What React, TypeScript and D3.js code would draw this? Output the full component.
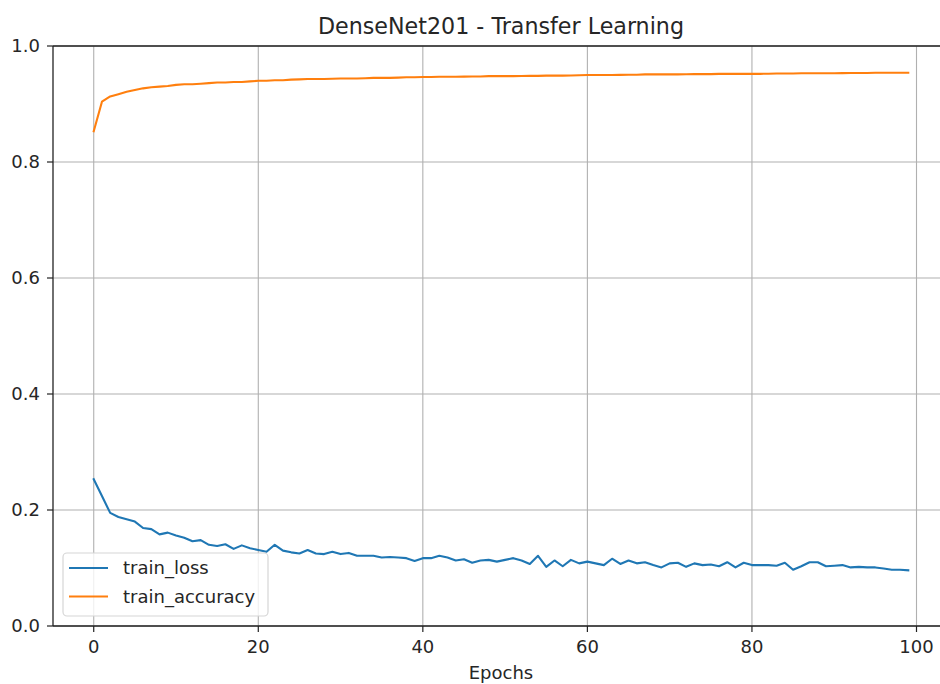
import React from "react";
import * as d3 from "d3";

const epochs: number[] = Array.from({ length: 100 }, (_, i) => i);

const trainLoss: number[] = [
  0.253, 0.224, 0.195, 0.188, 0.184, 0.180, 0.169, 0.167, 0.158, 0.161,
  0.156, 0.152, 0.146, 0.148, 0.140, 0.138, 0.141, 0.133, 0.139, 0.134,
  0.131, 0.128, 0.140, 0.130, 0.127, 0.125, 0.131, 0.125, 0.124, 0.128,
  0.124, 0.126, 0.121, 0.121, 0.121, 0.118, 0.119, 0.118, 0.117, 0.112,
  0.117, 0.117, 0.121, 0.118, 0.113, 0.115, 0.109, 0.113, 0.114, 0.111,
  0.114, 0.117, 0.113, 0.107, 0.121, 0.102, 0.113, 0.103, 0.114, 0.108,
  0.111, 0.108, 0.105, 0.116, 0.107, 0.113, 0.108, 0.110, 0.105, 0.101,
  0.108, 0.109, 0.102, 0.108, 0.105, 0.106, 0.103, 0.110, 0.101, 0.109,
  0.105, 0.105, 0.105, 0.104, 0.109, 0.097, 0.103, 0.110, 0.110, 0.103,
  0.104, 0.105, 0.101, 0.102, 0.101, 0.101, 0.099, 0.097, 0.097, 0.096,
];

const trainAccuracy: number[] = [
  0.853, 0.904, 0.913, 0.917, 0.921, 0.924, 0.927, 0.929, 0.930, 0.931,
  0.933, 0.934, 0.934, 0.935, 0.936, 0.937, 0.937, 0.938, 0.938, 0.939,
  0.940, 0.940, 0.941, 0.941, 0.942, 0.9425, 0.943, 0.943, 0.943, 0.9435,
  0.944, 0.944, 0.944, 0.9445, 0.945, 0.945, 0.945, 0.9455, 0.946, 0.946,
  0.9465, 0.9465, 0.947, 0.947, 0.947, 0.9472, 0.9475, 0.9475, 0.948, 0.948,
  0.948, 0.948, 0.9482, 0.9485, 0.9485, 0.949, 0.949, 0.949, 0.9492, 0.9495,
  0.950, 0.950, 0.950, 0.950, 0.9502, 0.9505, 0.9505, 0.951, 0.951, 0.951,
  0.951, 0.951, 0.9512, 0.9515, 0.9515, 0.9515, 0.952, 0.952, 0.952, 0.952,
  0.952, 0.952, 0.9522, 0.9525, 0.9525, 0.9525, 0.953, 0.953, 0.953, 0.953,
  0.953, 0.9532, 0.9535, 0.9535, 0.9535, 0.954, 0.954, 0.954, 0.954, 0.954,
];

const xTicks: number[] = [0, 20, 40, 60, 80, 100];
const yTicks: number[] = [0.0, 0.2, 0.4, 0.6, 0.8, 1.0];
const seriesNames: string[] = ["train_loss", "train_accuracy"];
const seriesColors: string[] = ["#1f77b4", "#ff7f0e"];
const titleText = "DenseNet201 - Transfer Learning";
const xLabel = "Epochs";

const W = 940;
const H = 684;
const left = 53;
const right = 949;
const top = 46;
const bottom = 626;
const FONT = "DejaVu Sans, sans-serif";
const TXT = "#262626";

export default function App() {
  const x = d3.scaleLinear().domain([-4.95, 103.95]).range([left, right]);
  const y = d3.scaleLinear().domain([0, 1]).range([bottom, top]);
  const line = d3
    .line<number>()
    .x((_, i) => x(epochs[i]))
    .y((d) => y(d));
  const series = [trainLoss, trainAccuracy];

  return (
    <svg
      width={W}
      height={H}
      style={{ position: "fixed", left: 0, top: 0, background: "#fff" }}
      fontFamily={FONT}
    >
      <rect x={0} y={0} width={W} height={H} fill="#fff" />
      <defs>
        <clipPath id="plotclip">
          <rect x={left} y={top} width={right - left} height={bottom - top} />
        </clipPath>
      </defs>
      {/* grid */}
      {xTicks.map((t) => (
        <line
          key={"gx" + t}
          x1={x(t)}
          x2={x(t)}
          y1={top}
          y2={bottom}
          stroke="#b0b0b0"
          strokeWidth={1.1}
        />
      ))}
      {yTicks.map((t) => (
        <line
          key={"gy" + t}
          x1={left}
          x2={right}
          y1={y(t)}
          y2={y(t)}
          stroke="#b0b0b0"
          strokeWidth={1.1}
        />
      ))}
      {/* lines */}
      <g clipPath="url(#plotclip)">
        {series.map((s, i) => (
          <path
            key={seriesNames[i]}
            d={line(s) || ""}
            fill="none"
            stroke={seriesColors[i]}
            strokeWidth={2.1}
            strokeLinejoin="round"
            strokeLinecap="square"
          />
        ))}
      </g>
      {/* spines */}
      <line x1={left} x2={left} y1={top} y2={bottom} stroke="#222" strokeWidth={1.3} />
      <line x1={left} x2={right} y1={bottom} y2={bottom} stroke="#222" strokeWidth={1.3} />
      <line x1={left} x2={right} y1={top} y2={top} stroke="#222" strokeWidth={1.3} />
      <line x1={right} x2={right} y1={top} y2={bottom} stroke="#222" strokeWidth={1.3} />
      {/* ticks */}
      {xTicks.map((t) => (
        <g key={"tx" + t}>
          <line x1={x(t)} x2={x(t)} y1={bottom} y2={bottom + 6} stroke="#222" strokeWidth={1.2} />
          <text
            x={x(t)}
            y={bottom + 27}
            textAnchor="middle"
            fontSize={18}
            fill={TXT}
          >
            {t}
          </text>
        </g>
      ))}
      {yTicks.map((t) => (
        <g key={"ty" + t}>
          <line x1={left - 6} x2={left} y1={y(t)} y2={y(t)} stroke="#222" strokeWidth={1.2} />
          <text
            x={left - 13}
            y={y(t)}
            dy="0.36em"
            textAnchor="end"
            fontSize={18}
            fill={TXT}
          >
            {d3.format(".1f")(t)}
          </text>
        </g>
      ))}
      {/* labels */}
      <text x={(left + right) / 2} y={679} textAnchor="middle" fontSize={18} fill={TXT}>
        {xLabel}
      </text>
      <text x={(left + right) / 2} y={34} textAnchor="middle" fontSize={22.2} fill={TXT}>
        {titleText}
      </text>
      {/* legend */}
      <g>
        <rect
          x={63}
          y={553}
          width={205}
          height={63}
          rx={4}
          fill="#fff"
          fillOpacity={0.8}
          stroke="#d6d6d6"
          strokeWidth={1.2}
        />
        {seriesNames.map((n, i) => (
          <g key={"lg" + n}>
            <line
              x1={69}
              x2={108}
              y1={568 + i * 28.5}
              y2={568 + i * 28.5}
              stroke={seriesColors[i]}
              strokeWidth={2.1}
            />
            <text x={123} y={568 + i * 28.5} dy="0.36em" fontSize={18} fill={TXT}>
              {n}
            </text>
          </g>
        ))}
      </g>
    </svg>
  );
}
